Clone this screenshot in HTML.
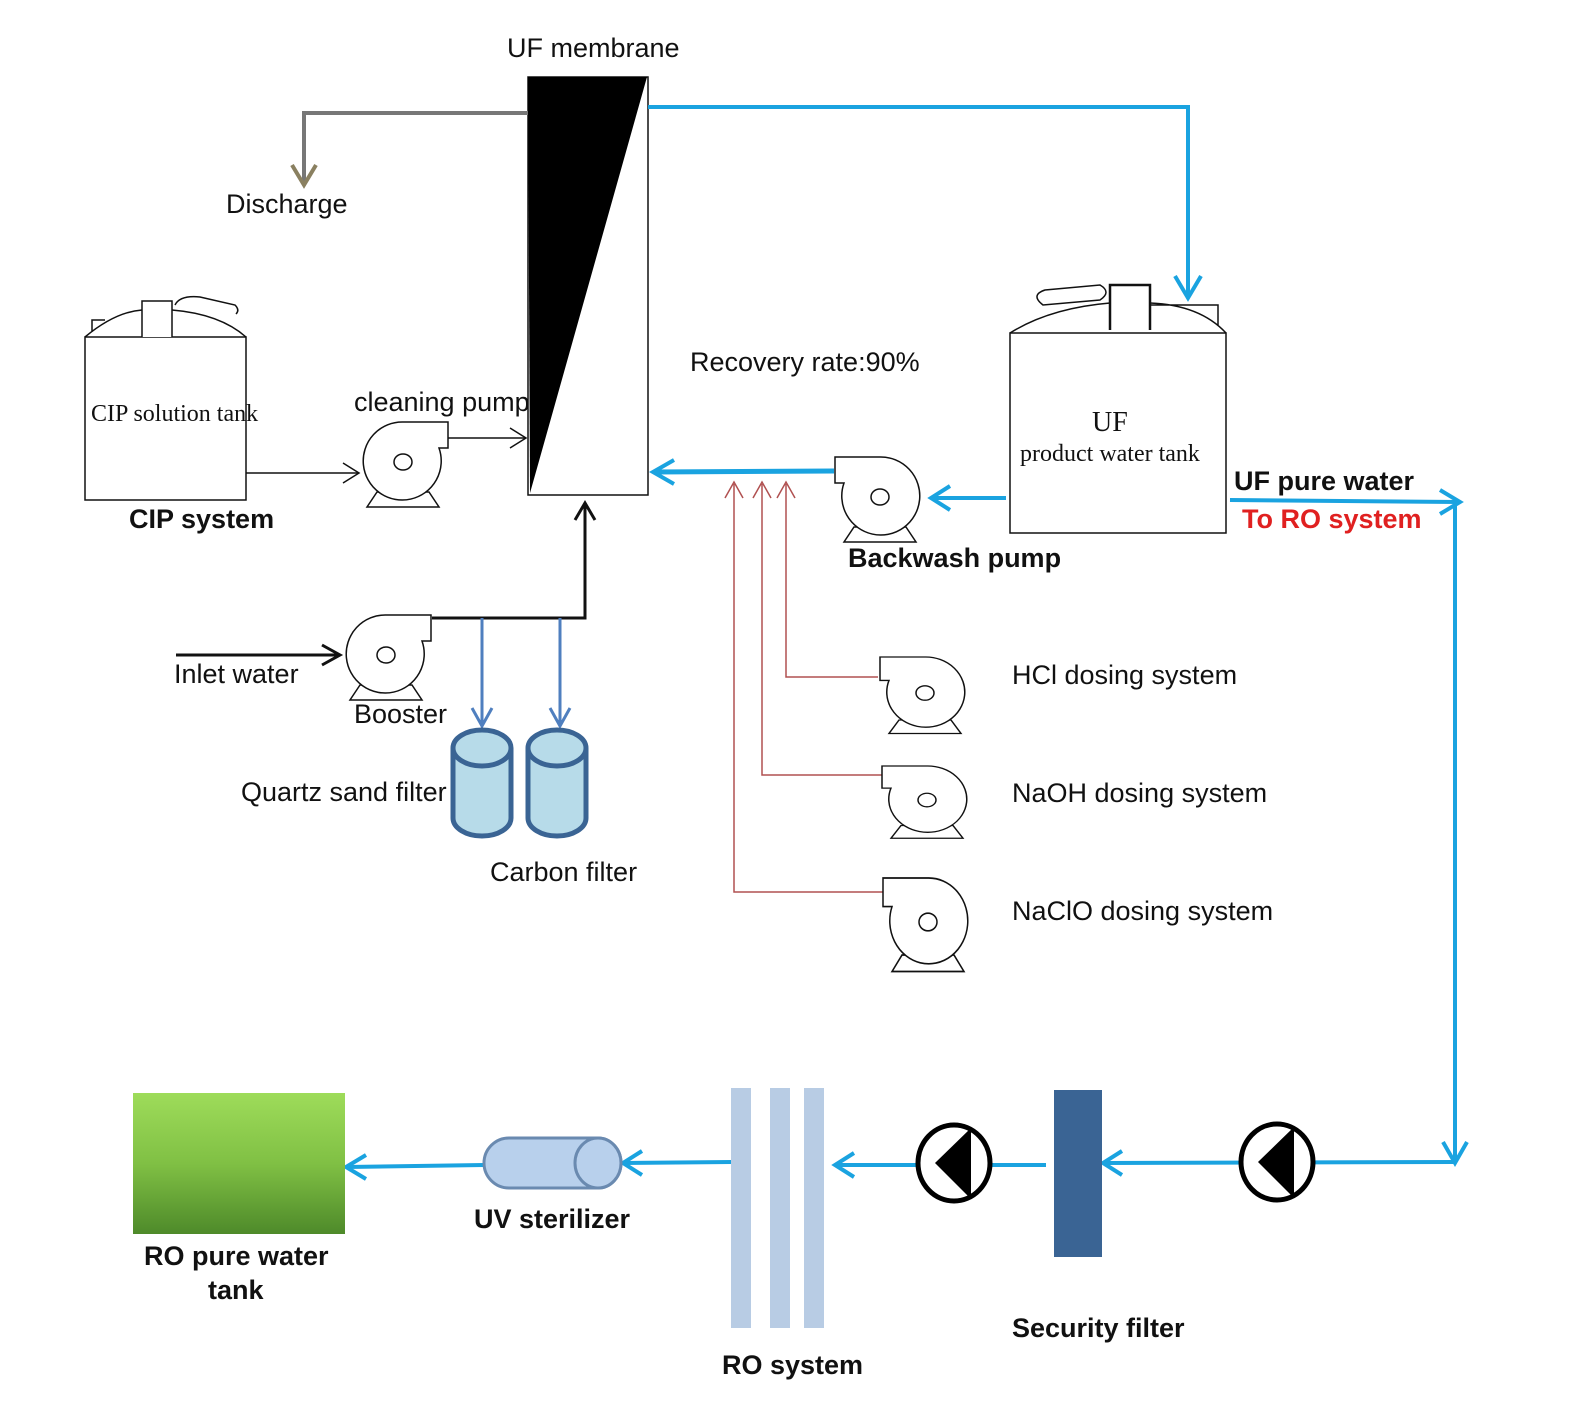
<!DOCTYPE html>
<html><head><meta charset="utf-8"><style>
html,body{margin:0;padding:0;background:#fff;}
svg{display:block;}
text{font-family:"Liberation Sans",sans-serif;font-size:27px;fill:#111;}
.b{font-weight:bold;}
.s{font-family:"Liberation Serif",serif;font-size:24px;}
</style></head><body>
<svg width="1581" height="1418" viewBox="0 0 1581 1418" xmlns="http://www.w3.org/2000/svg">
<defs>
<g id="pump" fill="#fff" stroke="#111" stroke-width="1.5">
<path d="M-26,30 L-36,45 L36,45 L26,30 Z"/>
<path d="M0,-40 H45 V-14 H36 A39,39 0 1 1 0,-40 Z"/>
<ellipse cx="0" cy="0" rx="9" ry="8"/>
</g>
<linearGradient id="g" x1="0" y1="0" x2="0" y2="1"><stop offset="0" stop-color="#9edc5a"/><stop offset="0.5" stop-color="#80c044"/><stop offset="1" stop-color="#4e8a2a"/></linearGradient>
</defs>

<text x="354" y="411">cleaning pump</text>
<!-- UF membrane -->
<text x="507" y="57">UF membrane</text>
<rect x="528" y="77" width="120" height="418" fill="#fff" stroke="#111" stroke-width="1.5"/>
<polygon points="528,77 647,77 530,493" fill="#000"/>
<polyline points="528,113 304,113 304,183" fill="none" stroke="#777" stroke-width="4"/>
<polyline points="292,165 304,185 316,165" fill="none" stroke="#8a8060" stroke-width="4"/>
<text x="226" y="213">Discharge</text>

<!-- blue top line -->
<polyline points="648,107 1188,107 1188,296" fill="none" stroke="#1aa3e0" stroke-width="4"/>
<polyline points="1175,276 1188,298 1201,276" fill="none" stroke="#1aa3e0" stroke-width="4"/>

<!-- CIP tank -->
<g fill="#fff" stroke="#111" stroke-width="1.5">
<path d="M92,332 V320 H105 M85,337 Q115,312 142,310 M172,310 Q220,314 246,337"/>
<rect x="85" y="337" width="161" height="163"/>
<path d="M142,337 V301 H172 V337"/>
<path d="M175,305 Q180,295 200,297 L235,305 Q240,310 236,314" fill="none"/>
</g>
<text class="s" x="91" y="421">CIP solution tank</text>
<text class="b" x="129" y="528">CIP system</text>
<line x1="246" y1="473" x2="358" y2="473" stroke="#111" stroke-width="1.5"/>
<polyline points="343,463 359,473 343,483" fill="none" stroke="#111" stroke-width="1.5"/>

<use href="#pump" transform="translate(403,462)"/>
<line x1="448" y1="438" x2="525" y2="438" stroke="#111" stroke-width="1.5"/>
<polyline points="510,428 526,438 510,448" fill="none" stroke="#111" stroke-width="1.5"/>

<!-- booster -->
<line x1="176" y1="655" x2="338" y2="655" stroke="#111" stroke-width="3"/>
<polyline points="322,645 340,655 322,665" fill="none" stroke="#111" stroke-width="3"/>
<text x="174" y="683">Inlet water</text>
<use href="#pump" transform="translate(386,655)"/>
<text x="354" y="723">Booster</text>
<polyline points="432,618 585,618 585,505" fill="none" stroke="#111" stroke-width="3"/>
<polyline points="575,520 585,503 595,520" fill="none" stroke="#111" stroke-width="3"/>
<g stroke="#4f7fbf" stroke-width="3" fill="none">
<line x1="482" y1="618" x2="482" y2="725"/><polyline points="472,708 482,726 492,708"/>
<line x1="560" y1="618" x2="560" y2="725"/><polyline points="550,708 560,726 570,708"/>
</g>
<g fill="#b7dbe9" stroke="#3a6494" stroke-width="5">
<path d="M453,748 V818 A29,18 0 0 0 511,818 V748"/>
<ellipse cx="482" cy="748" rx="29" ry="18"/>
<path d="M528,748 V818 A29,18 0 0 0 586,818 V748"/>
<ellipse cx="557" cy="748" rx="29" ry="18"/>
</g>
<text x="241" y="801">Quartz sand filter</text>
<text x="490" y="881">Carbon filter</text>

<text x="690" y="371">Recovery rate:90%</text>

<!-- UF tank -->
<g fill="#fff" stroke="#111" stroke-width="1.5">
<path d="M1010,333 Q1050,308 1110,303 M1150,303 Q1200,305 1226,333 M1218,325 V305 H1150"/>
<rect x="1010" y="333" width="216" height="200"/>
<path d="M1110,330 V285 H1150 V330" stroke-width="2.5"/>
<path d="M1043,305 Q1030,295 1045,290 L1100,285 Q1112,292 1100,300 Z" fill="none"/>
</g>
<text class="s" x="1092" y="431" style="font-size:28px">UF</text>
<text class="s" x="1020" y="461">product water tank</text>

<line x1="1006" y1="498" x2="932" y2="498" stroke="#1aa3e0" stroke-width="4"/>
<polyline points="950,486 931,498 950,510" fill="none" stroke="#1aa3e0" stroke-width="4"/>
<use href="#pump" transform="translate(880,497) scale(-1,1)"/>
<line x1="834" y1="471" x2="654" y2="472" stroke="#1aa3e0" stroke-width="5"/>
<polyline points="674,460 653,472 674,484" fill="none" stroke="#1aa3e0" stroke-width="4"/>
<text class="b" x="848" y="567">Backwash pump</text>

<!-- dosing -->
<g stroke="#b05050" stroke-width="1.5" fill="none">
<polyline points="878,677 786,677 786,484"/><polyline points="777,498 786,482 795,498"/>
<polyline points="882,775 762,775 762,484"/><polyline points="753,498 762,482 771,498"/>
<polyline points="886,892 734,892 734,484"/><polyline points="725,498 734,482 743,498"/>
</g>
<use href="#pump" transform="translate(925,693) scale(-1,0.9)"/>
<use href="#pump" transform="translate(927,800) scale(-1,0.85)"/>
<use href="#pump" transform="translate(928,922) scale(-1,1.1)"/>
<text x="1012" y="684">HCl dosing system</text>
<text x="1012" y="802">NaOH dosing system</text>
<text x="1012" y="920">NaClO dosing system</text>

<!-- UF pure water -->
<text class="b" x="1234" y="490">UF pure water</text>
<text class="b" x="1242" y="528" style="fill:#e02020">To RO system</text>
<g stroke="#1aa3e0" stroke-width="4" fill="none">
<line x1="1230" y1="500" x2="1458" y2="502"/>
<polyline points="1440,490 1460,502 1440,514"/>
<line x1="1455" y1="500" x2="1455" y2="1162"/>
<polyline points="1443,1142 1455,1163 1467,1142"/>
<line x1="1455" y1="1162" x2="1104" y2="1163"/>
<polyline points="1122,1151 1103,1163 1122,1175"/>
<line x1="1046" y1="1165" x2="836" y2="1165"/>
<polyline points="854,1153 835,1165 854,1177"/>
<line x1="732" y1="1162" x2="624" y2="1163"/>
<polyline points="642,1151 623,1163 642,1175"/>
<line x1="484" y1="1165" x2="347" y2="1167"/>
<polyline points="366,1155 346,1167 366,1179"/>
</g>
<g>
<ellipse cx="1277" cy="1162" rx="36" ry="38" fill="#fff" stroke="#000" stroke-width="5"/>
<polygon points="1258,1162 1294,1127 1294,1198" fill="#000"/>
<ellipse cx="954" cy="1163" rx="36" ry="38" fill="#fff" stroke="#000" stroke-width="5"/>
<polygon points="935,1163 971,1128 971,1199" fill="#000"/>
</g>
<rect x="1054" y="1090" width="48" height="167" fill="#3a6494"/>
<text class="b" x="1012" y="1337">Security filter</text>
<g fill="#b8cce4">
<rect x="731" y="1088" width="20" height="240"/>
<rect x="770" y="1088" width="20" height="240"/>
<rect x="804" y="1088" width="20" height="240"/>
</g>
<text class="b" x="722" y="1374">RO system</text>
<g fill="#b8d0ec" stroke="#6a8ab0" stroke-width="3">
<path d="M509,1138 H598 A23,25 0 0 1 598,1188 H509 A25,25 0 0 1 509,1138 Z"/>
<ellipse cx="598" cy="1163" rx="23" ry="25"/>
</g>
<text class="b" x="474" y="1228">UV sterilizer</text>
<rect x="133" y="1093" width="212" height="141" fill="url(#g)"/>
<text class="b" x="144" y="1265">RO pure water</text>
<text class="b" x="208" y="1299">tank</text>
</svg>
</body></html>
